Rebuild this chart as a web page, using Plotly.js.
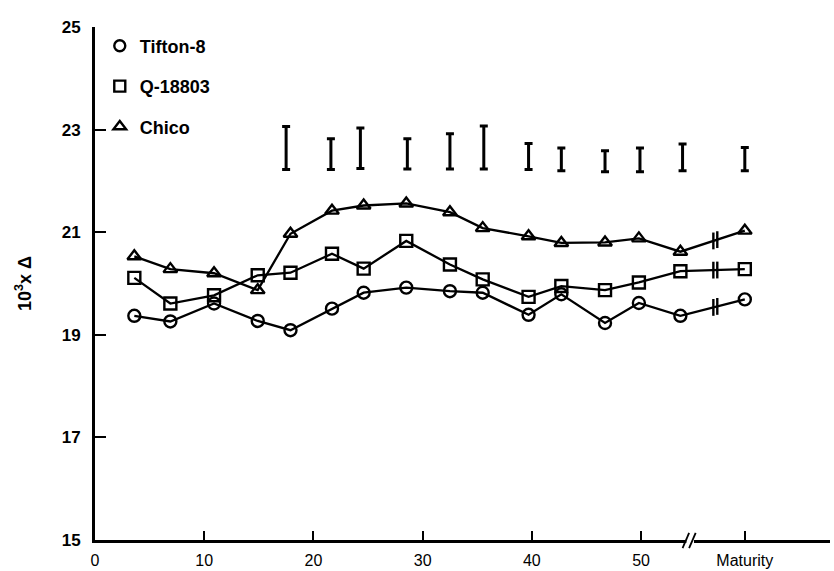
<!DOCTYPE html>
<html><head><meta charset="utf-8">
<script src="https://cdn.plot.ly/plotly-3.0.1.min.js"></script>
<style>html,body{margin:0;padding:0;background:#fff}#chart{width:834px;height:571px}</style>
</head><body><div id="chart"></div>
<script>
const days = [3.6, 6.9, 10.9, 14.9, 17.9, 21.7, 24.6, 28.5, 32.5, 35.5, 39.7, 42.7, 46.7, 49.8, 53.6];
const maturityX = 59.5;
const seriesNames = ['Tifton-8', 'Q-18803', 'Chico'];
const tifton = [19.37,19.26,19.61,19.27,19.09,19.51,19.82,19.92,19.85,19.82,19.39,19.79,19.23,19.62,19.37,19.69];
const q18803 = [20.11,19.61,19.77,20.16,20.21,20.58,20.29,20.83,20.37,20.08,19.74,19.95,19.87,20.02,20.24,20.28];
const chico  = [20.53,20.28,20.20,19.87,20.97,21.42,21.52,21.56,21.39,21.08,20.92,20.79,20.80,20.88,20.62,21.03];
const lsdX    = [17.5,21.6,24.3,28.6,32.5,35.6,39.7,42.7,46.7,49.9,53.8,59.5];
const lsdLow  = [22.22,22.22,22.24,22.23,22.23,22.23,22.22,22.20,22.18,22.18,22.20,22.20];
const lsdHigh = [23.06,22.82,23.03,22.82,22.92,23.07,22.73,22.64,22.59,22.64,22.72,22.65];
const xTickVals = [0,10,20,30,40,50,59.5];
const xTickText = ['0','10','20','30','40','50','Maturity'];
const yTickVals = [15,17,19,21,23,25];
const axisBreakX = 54.4;
const lineBreakX = 56.8;

const symbols = ['circle-open','square-open','triangle-up-open'];
const allY = [tifton, q18803, chico];
const xs = days.concat([maturityX]);
const traces = [];
allY.forEach((ys, i) => {
  traces.push({
    x: xs, y: ys, type: 'scatter', mode: 'lines+markers', showlegend: false,
    line: {color: '#000', width: 2.3},
    marker: {symbol: symbols[i], size: 12, color: '#000', line: {color: '#000', width: 2.4}}
  });
});
// break marks on the lines
allY.forEach((ys, i) => {
  const n = ys.length;
  const xa = xs[n-2], xb = xs[n-1], ya = ys[n-2], yb = ys[n-1];
  const bx = [lineBreakX - 0.18, lineBreakX + 0.18];
  const by = bx.map(v => ya + (yb - ya) * (v - xa) / (xb - xa));
  traces.push({
    x: bx, y: by, type: 'scatter', mode: 'markers', showlegend: false, hoverinfo: 'skip',
    marker: {symbol: 'line-ns', size: 12, line: {color: '#000', width: 2.4}}
  });
});
// LSD bars
traces.push({
  x: lsdX, y: lsdLow.map((v, i) => (v + lsdHigh[i]) / 2), type: 'scatter', mode: 'markers',
  showlegend: false, marker: {size: 1, opacity: 0},
  error_y: {type: 'data', symmetric: true, array: lsdLow.map((v, i) => (lsdHigh[i] - v) / 2),
            color: '#000', thickness: 3, width: 4}
});
// legend entries
seriesNames.forEach((nm, i) => {
  traces.push({
    x: [null], y: [null], type: 'scatter', mode: 'markers', name: nm, legendgroup: 'g' + i,
    marker: {symbol: symbols[i], size: 11, color: '#000', line: {color: '#000', width: 2.4}}
  });
});

const layout = {
  width: 834, height: 571,
  margin: {l: 95, r: 4, t: 27, b: 31},
  paper_bgcolor: '#fff', plot_bgcolor: '#fff',
  font: {family: 'Liberation Sans, Arial, sans-serif', color: '#000', size: 16},
  showlegend: true,
  legend: {x: 0.0065, y: 0.999, xanchor: 'left', yanchor: 'top', bgcolor: 'rgba(0,0,0,0)',
           font: {size: 18, weight: 'bold'}, tracegroupgap: 14, itemwidth: 30},
  xaxis: {
    range: [0, 67.3], showgrid: false, zeroline: false, showline: true, linecolor: '#000', linewidth: 3,
    tickmode: 'array', tickvals: xTickVals, ticktext: xTickText, ticks: 'inside', ticklen: 9,
    tickwidth: 2, tickcolor: '#000', tickfont: {size: 16}, ticklabelstandoff: 4
  },
  yaxis: {
    range: [15, 25], showgrid: false, zeroline: false, showline: true, linecolor: '#000', linewidth: 3,
    tickmode: 'array', tickvals: yTickVals, ticks: 'inside', ticklen: 11, tickwidth: 2, tickcolor: '#000',
    tickfont: {size: 17, weight: 'bold'}, ticklabelstandoff: 8,
    title: {text: '10<sup>3</sup>x Δ', font: {size: 18, weight: 'bold'}, standoff: 26}
  },
  shapes: [
    {type: 'rect', xref: 'x', yref: 'paper', x0: axisBreakX - 0.25, x1: axisBreakX + 0.45, y0: -0.01, y1: 0.01,
     fillcolor: '#fff', line: {width: 0}, layer: 'above'},
    {type: 'line', xref: 'x', yref: 'paper', x0: axisBreakX - 0.6, x1: axisBreakX, y0: -0.016, y1: 0.014,
     line: {color: '#000', width: 1.8}, layer: 'above'},
    {type: 'line', xref: 'x', yref: 'paper', x0: axisBreakX, x1: axisBreakX + 0.6, y0: -0.016, y1: 0.014,
     line: {color: '#000', width: 1.8}, layer: 'above'}
  ]
};
Plotly.newPlot('chart', traces, layout, {displayModeBar: false, staticPlot: true});
</script>
</body></html>
